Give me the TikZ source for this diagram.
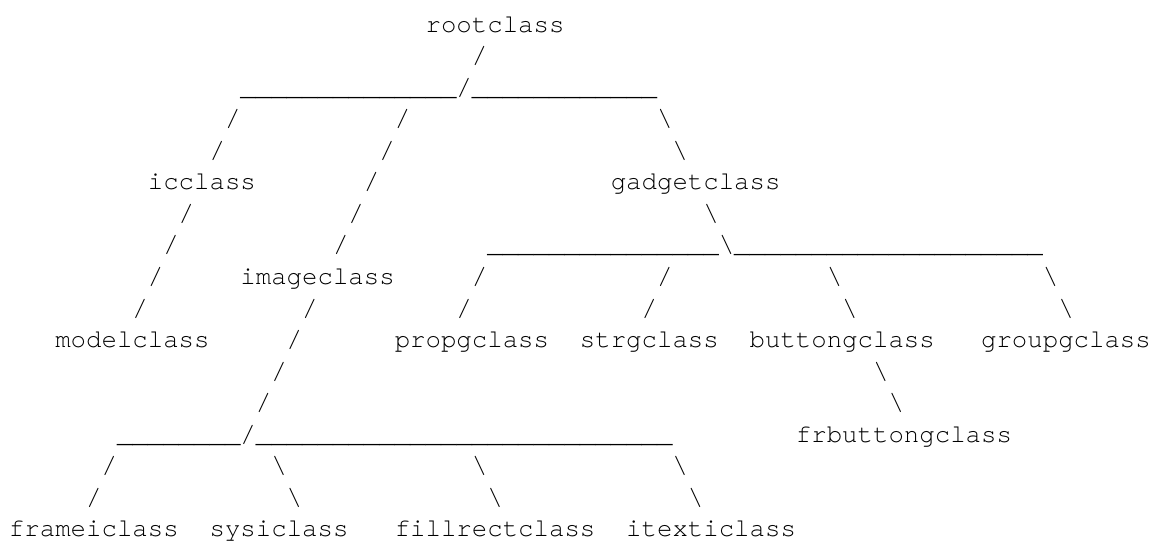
\documentclass[tikz,border=0pt]{standalone}
\usepackage{fontspec}
\newfontfamily\asciifont{texgyrecursor-regular.otf}[Ligatures={NoCommon,NoRequired}]
\newcommand\usc[1]{\ifnum#1>0 \_\expandafter\usc\expandafter{\the\numexpr#1-1\relax}\fi}
\newcommand\bs{\textbackslash}
\def\cw{15.43}
\def\xo{9}
\def\lh{31.56}
\def\yo{32}
\newcommand\asc[4]{\node[asc] (#1) at ({\xo+#2*\cw},{-(\yo+(#3-1)*\lh)}) {#4};}
\begin{document}
\begin{tikzpicture}[x=1pt,y=1pt,
  asc/.style={anchor=base west, inner sep=0pt, outer sep=0pt, text=black,
    font=\asciifont\fontsize{25.72}{30}\selectfont}]
\useasboundingbox (0,0) rectangle (1160,-544);
% row 1
\asc{root}{27}{1}{rootclass}
% row 2
\asc{a2}{30}{2}{/}
% row 3
\asc{a3}{15}{3}{\usc{14}/\usc{12}}
% row 4
\asc{a4a}{14}{4}{/}
\asc{a4b}{25}{4}{/}
\asc{a4c}{42}{4}{\bs}
% row 5
\asc{a5a}{13}{5}{/}
\asc{a5b}{24}{5}{/}
\asc{a5c}{43}{5}{\bs}
% row 6
\asc{ic}{9}{6}{icclass}
\asc{a6b}{23}{6}{/}
\asc{gadget}{39}{6}{gadgetclass}
% row 7
\asc{a7a}{11}{7}{/}
\asc{a7b}{22}{7}{/}
\asc{a7c}{45}{7}{\bs}
% row 8
\asc{a8a}{10}{8}{/}
\asc{a8b}{21}{8}{/}
\asc{a8c}{31}{8}{\usc{15}\bs\usc{20}}
% row 9
\asc{a9a}{9}{9}{/}
\asc{image}{15}{9}{imageclass}
\asc{a9c}{30}{9}{/}
\asc{a9d}{42}{9}{/}
\asc{a9e}{53}{9}{\bs}
\asc{a9f}{67}{9}{\bs}
% row 10
\asc{a10a}{8}{10}{/}
\asc{a10b}{19}{10}{/}
\asc{a10c}{29}{10}{/}
\asc{a10d}{41}{10}{/}
\asc{a10e}{54}{10}{\bs}
\asc{a10f}{68}{10}{\bs}
% row 11
\asc{model}{3}{11}{modelclass}
\asc{a11b}{18}{11}{/}
\asc{propg}{25}{11}{propgclass}
\asc{strg}{37}{11}{strgclass}
\asc{button}{48}{11}{buttongclass}
\asc{groupg}{63}{11}{groupgclass}
% row 12
\asc{a12a}{17}{12}{/}
\asc{a12b}{56}{12}{\bs}
% row 13
\asc{a13a}{16}{13}{/}
\asc{a13b}{57}{13}{\bs}
% row 14
\asc{a14a}{7}{14}{\usc{8}/\usc{27}}
\asc{frbutton}{51}{14}{frbuttongclass}
% row 15
\asc{a15a}{6}{15}{/}
\asc{a15b}{17}{15}{\bs}
\asc{a15c}{30}{15}{\bs}
\asc{a15d}{43}{15}{\bs}
% row 16
\asc{a16a}{5}{16}{/}
\asc{a16b}{18}{16}{\bs}
\asc{a16c}{31}{16}{\bs}
\asc{a16d}{44}{16}{\bs}
% row 17
\asc{frame}{0}{17}{frameiclass}
\asc{sysi}{13}{17}{sysiclass}
\asc{fillrect}{25}{17}{f{}illrectclass}
\asc{itexti}{40}{17}{itexticlass}
\end{tikzpicture}
\end{document}
